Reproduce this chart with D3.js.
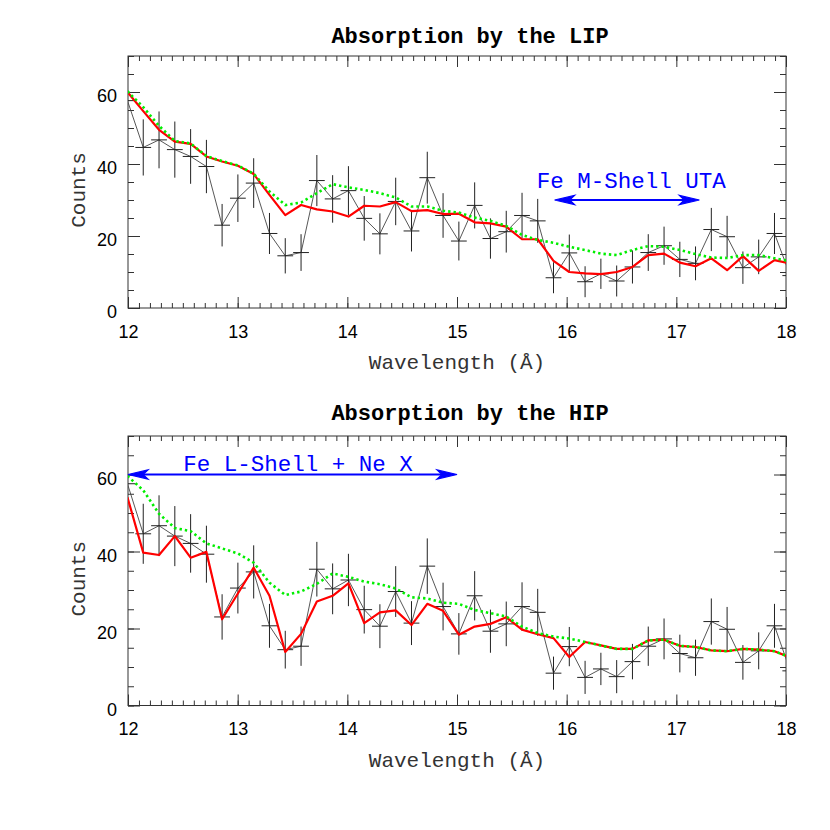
<!DOCTYPE html>
<html>
<head>
<meta charset="utf-8">
<script src="https://cdn.jsdelivr.net/npm/d3@7"></script>
<style>
  html, body { margin: 0; padding: 0; background: #fff; }
  svg { display: block; }
</style>
</head>
<body>
<svg id="chart" width="830" height="830"></svg>
<script>
// ---------------- data ----------------
const wavelength = [11.995, 12.139, 12.283, 12.427, 12.571, 12.715, 12.858, 13.002, 13.146, 13.290,
  13.434, 13.578, 13.722, 13.866, 14.010, 14.154, 14.297, 14.441, 14.585, 14.729,
  14.873, 15.017, 15.161, 15.305, 15.449, 15.593, 15.736, 15.880, 16.024, 16.168,
  16.312, 16.456, 16.600, 16.744, 16.888, 17.032, 17.175, 17.319, 17.463, 17.607,
  17.751, 17.895, 18.039];

const counts = [57.6, 44.6, 46.7, 44.0, 42.1, 39.3, 23.0, 30.5, 34.7, 20.7,
  14.5, 15.4, 35.4, 30.3, 32.6, 24.9, 20.6, 29.6, 21.4, 36.2,
  25.7, 18.6, 28.5, 19.3, 21.2, 25.7, 24.2, 8.4, 15.3, 7.3,
  9.5, 7.5, 11.4, 15.4, 17.3, 13.5, 12.4, 21.8, 19.8, 11.2,
  14.2, 20.7, 9.0];

const countErr = [8.5, 7.8, 7.9, 7.8, 7.6, 7.4, 5.9, 6.6, 6.9, 5.7,
  4.9, 5.1, 7.1, 6.6, 6.8, 6.2, 5.7, 6.6, 5.7, 7.2,
  6.2, 5.4, 6.4, 5.6, 5.8, 6.3, 6.1, 4.3, 5.1, 4.3,
  4.2, 4.3, 4.6, 5.1, 5.3, 4.9, 4.7, 6.0, 5.8, 4.5,
  4.8, 5.7, 4.5];

const lipModel = [60.0, 54.7, 49.5, 46.2, 45.6, 42.1, 40.7, 39.5, 37.2, 31.4,
  25.8, 28.6, 27.4, 26.8, 25.4, 28.4, 28.2, 29.4, 26.9, 27.2,
  26.1, 26.2, 23.8, 23.5, 22.6, 19.1, 19.1, 13.1, 10.0, 9.6,
  9.4, 10.0, 11.4, 14.7, 15.1, 12.6, 11.6, 13.8, 10.5, 14.4,
  10.3, 13.3, 12.3];

const lipContinuum = [60.2, 55.8, 50.6, 46.4, 45.7, 42.2, 40.8, 39.6, 37.3, 32.4,
  28.6, 29.3, 31.9, 34.4, 33.5, 32.8, 31.9, 30.7, 28.2, 28.2,
  27.0, 26.5, 25.1, 24.2, 22.8, 20.3, 18.9, 18.1, 17.0, 16.1,
  15.1, 14.7, 16.1, 17.2, 17.0, 16.1, 15.0, 14.0, 13.9, 14.7,
  14.7, 13.8, 13.0];

const hipModel = [54.1, 39.7, 39.1, 44.0, 38.4, 39.9, 22.4, 29.1, 35.8, 28.5,
  13.9, 18.6, 27.0, 28.5, 31.7, 21.4, 24.2, 24.7, 20.9, 26.4,
  24.6, 18.4, 20.5, 21.2, 22.9, 19.7, 18.5, 17.5, 12.6, 16.5,
  15.6, 14.7, 14.7, 16.9, 17.1, 15.5, 15.2, 14.3, 14.1, 14.7,
  14.5, 14.1, 12.5];

const hipContinuum = [59.6, 55.9, 49.8, 46.1, 45.3, 42.1, 40.8, 39.5, 37.1, 31.9,
  28.7, 29.6, 31.6, 34.3, 33.4, 32.2, 31.5, 30.4, 28.1, 27.8,
  26.7, 26.4, 24.8, 24.0, 23.1, 20.5, 18.8, 17.9, 17.4, 16.5,
  15.6, 14.7, 14.7, 16.9, 17.1, 15.5, 15.2, 14.3, 14.1, 14.7,
  14.5, 14.1, 12.5];

const panelTitles = ["Absorption by the LIP", "Absorption by the HIP"];
const xTickValues = [12, 13, 14, 15, 16, 17, 18];
const yTickValues = [0, 20, 40, 60];
const xLabel = "Wavelength (Å)";
const yLabel = "Counts";

const lipNote = { text: "Fe M-Shell UTA", textX: 16.59, textY: 33.2, x1: 15.89, x2: 17.21, y: 30.0 };
const hipNote = { text: "Fe L-Shell + Ne X", textX: 13.55, textY: 61.0, x1: 12.0, x2: 15.0, y: 60.0 };

// ---------------- drawing ----------------
const svg = d3.select("#chart");
const monoFont = "'Liberation Mono', 'DejaVu Sans Mono', monospace";
const sansFont = "'Liberation Sans', Arial, sans-serif";

const panels = [
  { top: 56, bottom: 308, title: panelTitles[0], titleY: 43, model: lipModel, cont: lipContinuum, note: lipNote, id: "lip" },
  { top: 436, bottom: 705.5, title: panelTitles[1], titleY: 420, model: hipModel, cont: hipContinuum, note: hipNote, id: "hip" }
];

const left = 128, right = 786;

panels.forEach(p => {
  const x = d3.scaleLinear().domain([12, 18]).range([left, right]);
  const y = d3.scaleLinear().domain([0, 70]).range([p.bottom, p.top]);
  const g = svg.append("g");

  // clip
  svg.append("clipPath").attr("id", "clip-" + p.id)
    .append("rect").attr("x", left).attr("y", p.top)
    .attr("width", right - left).attr("height", p.bottom - p.top);

  const minorX = d3.range(121, 181).map(d => d / 10);
  const minorY = d3.range(0, 71, 5);

  const tickColor = "#333";
  function styleAxis(sel) {
    sel.select(".domain").remove();
    sel.selectAll("line").attr("stroke", tickColor).attr("stroke-width", 1);
  }

  // minor ticks all sides
  g.append("g").attr("transform", `translate(0,${p.bottom})`)
    .call(d3.axisBottom(x).tickValues(minorX).tickSize(-5).tickFormat("")).call(styleAxis);
  g.append("g").attr("transform", `translate(0,${p.top})`)
    .call(d3.axisTop(x).tickValues(minorX).tickSize(-5).tickFormat("")).call(styleAxis);
  g.append("g").attr("transform", `translate(${left},0)`)
    .call(d3.axisLeft(y).tickValues(minorY).tickSize(-6).tickFormat("")).call(styleAxis);
  g.append("g").attr("transform", `translate(${right},0)`)
    .call(d3.axisRight(y).tickValues(minorY).tickSize(-6).tickFormat("")).call(styleAxis);

  // major ticks
  const xb = g.append("g").attr("transform", `translate(0,${p.bottom})`)
    .call(d3.axisBottom(x).tickValues(xTickValues).tickSize(-11).tickFormat(d3.format("d")).tickPadding(17))
    .call(styleAxis);
  xb.selectAll("text").attr("font-family", sansFont).attr("font-size", 18).attr("fill", "#000")
    .attr("dy", "0.71em");
  g.append("g").attr("transform", `translate(0,${p.top})`)
    .call(d3.axisTop(x).tickValues(xTickValues).tickSize(-11).tickFormat("")).call(styleAxis);
  const yl = g.append("g").attr("transform", `translate(${left},0)`)
    .call(d3.axisLeft(y).tickValues(yTickValues).tickSize(-12).tickFormat(d3.format("d")).tickPadding(11))
    .call(styleAxis);
  yl.selectAll("text").attr("font-family", sansFont).attr("font-size", 18).attr("fill", "#000")
    .attr("dy", "0.55em");
  g.append("g").attr("transform", `translate(${right},0)`)
    .call(d3.axisRight(y).tickValues(yTickValues).tickSize(-12).tickFormat("")).call(styleAxis);

  // frame
  g.append("rect").attr("x", left).attr("y", p.top)
    .attr("width", right - left).attr("height", p.bottom - p.top)
    .attr("fill", "none").attr("stroke", "#333").attr("stroke-width", 1);

  const plot = g.append("g").attr("clip-path", `url(#clip-${p.id})`);

  // data line
  const line = d3.line().x((d, i) => x(wavelength[i])).y(d => y(d));
  plot.append("path").datum(counts).attr("d", line)
    .attr("fill", "none").attr("stroke", "#444").attr("stroke-width", 0.9);

  // error bars
  const halfBin = 0.072;
  const eb = plot.append("g").attr("stroke", "#222").attr("stroke-width", 1);
  counts.forEach((c, i) => {
    eb.append("line").attr("x1", x(wavelength[i])).attr("x2", x(wavelength[i]))
      .attr("y1", y(c - countErr[i])).attr("y2", y(c + countErr[i]));
    eb.append("line").attr("x1", x(wavelength[i] - halfBin)).attr("x2", x(wavelength[i] + halfBin))
      .attr("y1", y(c)).attr("y2", y(c));
  });

  // model (red) and continuum (green dotted)
  plot.append("path").datum(p.model).attr("d", line)
    .attr("fill", "none").attr("stroke", "#ff0000").attr("stroke-width", 2.2)
    .attr("stroke-linejoin", "round");
  plot.append("path").datum(p.cont).attr("d", line)
    .attr("fill", "none").attr("stroke", "#00ee00").attr("stroke-width", 2.6)
    .attr("stroke-dasharray", "2.4 3");

  // annotation
  const n = p.note;
  const ay = y(n.y);
  const blue = "#0000ff";
  g.append("line").attr("x1", x(n.x1) + 6).attr("x2", x(n.x2) - 6)
    .attr("y1", ay).attr("y2", ay).attr("stroke", blue).attr("stroke-width", 2);
  function head(tipX, dir) {
    const L = 20, W = 4.6, N = 15;
    return `M${tipX},${ay} L${tipX + dir * L},${ay - W} L${tipX + dir * N},${ay} L${tipX + dir * L},${ay + W} Z`;
  }
  g.append("path").attr("d", head(x(n.x1), 1)).attr("fill", blue).attr("stroke", blue).attr("stroke-width", 1.2);
  g.append("path").attr("d", head(x(n.x2), -1)).attr("fill", blue).attr("stroke", blue).attr("stroke-width", 1.2);
  g.append("text").attr("x", x(n.textX)).attr("y", y(n.textY))
    .attr("text-anchor", "middle").attr("font-family", monoFont).attr("font-size", 22.5)
    .attr("fill", blue).text(n.text);

  // title
  svg.append("text").attr("x", 470).attr("y", p.titleY)
    .attr("text-anchor", "middle").attr("font-family", monoFont).attr("font-size", 22)
    .attr("font-weight", "bold").attr("fill", "#000").text(p.title);

  // axis labels
  svg.append("text").attr("x", (left + right) / 2).attr("y", p.bottom + 61)
    .attr("text-anchor", "middle").attr("font-family", monoFont).attr("font-size", 21)
    .attr("fill", "#333").text(xLabel);
  const cy = (p.top + p.bottom) / 2 + 8;
  svg.append("text").attr("transform", `translate(85,${cy}) rotate(-90)`)
    .attr("text-anchor", "middle").attr("font-family", monoFont).attr("font-size", 21)
    .attr("fill", "#333").text(yLabel);
});
</script>
</body>
</html>
